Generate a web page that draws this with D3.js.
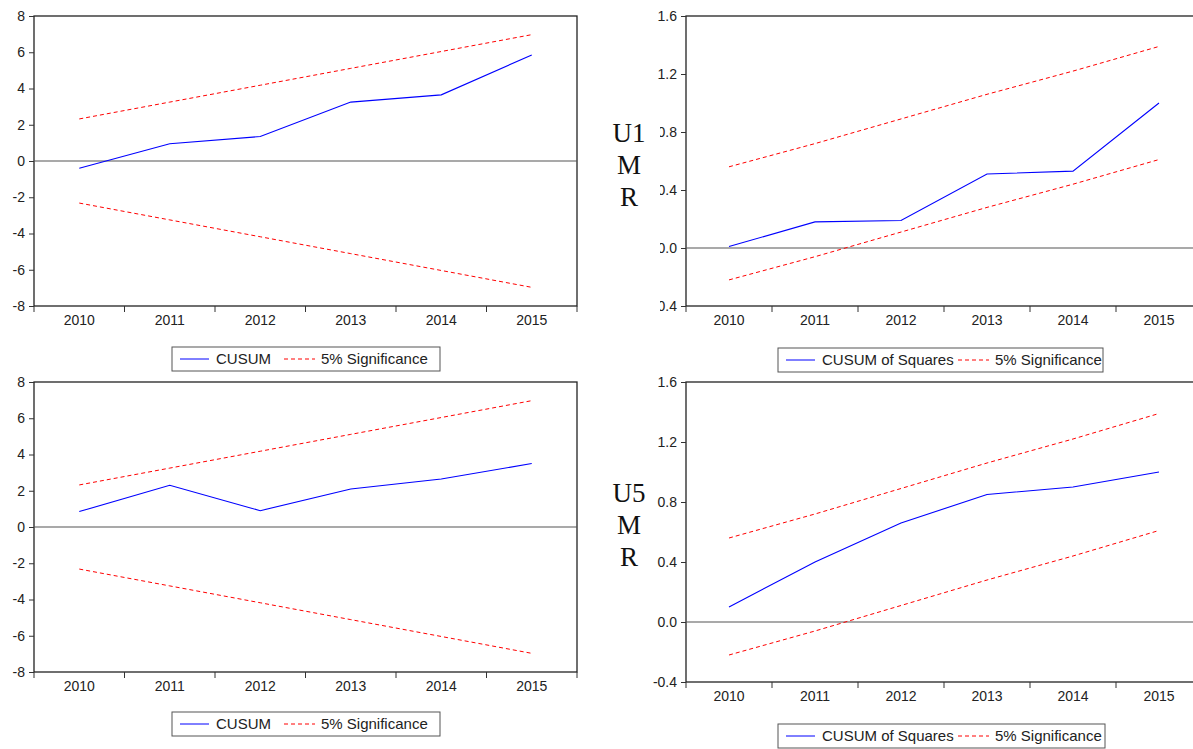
<!DOCTYPE html>
<html>
<head>
<meta charset="utf-8">
<script src="https://cdn.jsdelivr.net/npm/d3@7"></script>
<style>
  body { margin: 0; background: #fff; }
  svg { display: block; }
  .axis text { font-family: "Liberation Sans", Arial, sans-serif; font-size: 14px; fill: #222; }
  .axis path, .axis line { stroke: #333; }
  .side { font-family: "Liberation Serif", "Times New Roman", serif; font-size: 27px; fill: #111; }
  .leg { font-family: "Liberation Sans", Arial, sans-serif; font-size: 15px; fill: #222; }
</style>
</head>
<body>
<div id="chart"></div>
<script>
// categories
const years = ["2010", "2011", "2012", "2013", "2014", "2015"];

// U1 CUSUM
const cusumU1 = [-0.4, 0.95, 1.35, 3.25, 3.65, 5.85];
const cusumUpper = [2.32, 3.25, 4.18, 5.11, 6.04, 6.97];
const cusumLower = [-2.32, -3.25, -4.18, -5.11, -6.04, -6.97];
// U5 CUSUM
const cusumU5 = [0.85, 2.3, 0.9, 2.1, 2.65, 3.5];

// CUSUM of squares
const sqU1 = [0.01, 0.18, 0.19, 0.51, 0.53, 1.0];
const sqU5 = [0.1, 0.4, 0.66, 0.85, 0.9, 1.0];
const sqUpper = [0.56, 0.72, 0.89, 1.06, 1.22, 1.39];
const sqLower = [-0.22, -0.06, 0.11, 0.28, 0.44, 0.61];

// tick labels
const cusumTicks = [-8, -6, -4, -2, 0, 2, 4, 6, 8];
const sqTicks = [-0.4, 0.0, 0.4, 0.8, 1.2, 1.6];

const svg = d3.select('#chart').append('svg')
  .attr('width', 1193)
  .attr('height', 749);

function panel(cfg) {
  const x = d3.scaleBand().domain(years).range([cfg.left, cfg.right]).paddingInner(0).paddingOuter(0);
  const y = d3.scaleLinear().domain(cfg.domain).range([cfg.bottom, cfg.top]);
  const g = svg.append('g');

  // frame
  g.append('rect')
    .attr('x', cfg.left).attr('y', cfg.top)
    .attr('width', cfg.right - cfg.left).attr('height', cfg.bottom - cfg.top)
    .attr('fill', 'none').attr('stroke', '#222').attr('stroke-width', 1.3);

  // zero line
  g.append('line')
    .attr('x1', cfg.left).attr('x2', cfg.right)
    .attr('y1', y(0)).attr('y2', y(0))
    .attr('stroke', '#555').attr('stroke-width', 1.2);

  // y axis
  const ya = g.append('g').attr('class', 'axis')
    .attr('transform', `translate(${cfg.left},0)`)
    .call(d3.axisLeft(y).tickValues(cfg.ticks).tickSize(5).tickPadding(4).tickFormat(cfg.fmt));
  ya.select('.domain').remove();

  // x axis: labels at band centres, ticks at band edges
  const xa = g.append('g').attr('class', 'axis')
    .attr('transform', `translate(0,${cfg.bottom})`)
    .call(d3.axisBottom(x).tickSize(0).tickPadding(9));
  xa.select('.domain').remove();
  const edges = years.map(d => x(d)).concat([cfg.right]);
  g.selectAll('line.xt').data(edges).enter().append('line')
    .attr('class', 'xt')
    .attr('x1', d => d).attr('x2', d => d)
    .attr('y1', cfg.bottom).attr('y2', cfg.bottom + 6)
    .attr('stroke', '#333');

  const cx = d => x(d) + x.bandwidth() / 2;
  const line = d3.line().x((d, i) => cx(years[i])).y(d => y(d));

  [cfg.upper, cfg.lower].forEach(s => {
    g.append('path').datum(s)
      .attr('d', line).attr('fill', 'none')
      .attr('stroke', '#ff0000').attr('stroke-width', 1)
      .attr('stroke-dasharray', '4,3');
  });
  g.append('path').datum(cfg.series)
    .attr('d', line).attr('fill', 'none')
    .attr('stroke', '#0000ff').attr('stroke-width', 1.1);

  // legend
  const lg = g.append('g').attr('transform', `translate(${cfg.legX},${cfg.legY})`);
  lg.append('rect').attr('width', cfg.legW).attr('height', 24)
    .attr('fill', '#fff').attr('stroke', '#555');
  lg.append('line').attr('x1', 8).attr('x2', 37).attr('y1', 12).attr('y2', 12)
    .attr('stroke', '#0000ff');
  lg.append('text').attr('class', 'leg').attr('x', 44).attr('y', 17).text(cfg.name);
  const off = cfg.dashX;
  lg.append('line').attr('x1', off).attr('x2', off + 31).attr('y1', 12).attr('y2', 12)
    .attr('stroke', '#ff0000').attr('stroke-dasharray', '4,3');
  lg.append('text').attr('class', 'leg').attr('x', off + 37).attr('y', 17).text('5% Significance');
}

const intFmt = d => String(d);
const decFmt = d => d.toFixed(1);

panel({ left: 34, right: 577, top: 16, bottom: 306, domain: [-8, 8], ticks: cusumTicks, fmt: intFmt,
  series: cusumU1, upper: cusumUpper, lower: cusumLower, name: 'CUSUM', legX: 172, legY: 347, legW: 268, dashX: 112 });
panel({ left: 34, right: 577, top: 382, bottom: 672, domain: [-8, 8], ticks: cusumTicks, fmt: intFmt,
  series: cusumU5, upper: cusumUpper, lower: cusumLower, name: 'CUSUM', legX: 172, legY: 712, legW: 268, dashX: 112 });
panel({ left: 686, right: 1202, top: 16, bottom: 306, domain: [-0.4, 1.6], ticks: sqTicks, fmt: decFmt,
  series: sqU1, upper: sqUpper, lower: sqLower, name: 'CUSUM of Squares', legX: 778, legY: 348, legW: 325, dashX: 180 });
panel({ left: 686, right: 1202, top: 382, bottom: 682, domain: [-0.4, 1.6], ticks: sqTicks, fmt: decFmt,
  series: sqU5, upper: sqUpper, lower: sqLower, name: 'CUSUM of Squares', legX: 778, legY: 724, legW: 327, dashX: 180 });

// side labels; the upper one sits on a white box that hides part of the tick labels
svg.append('rect').attr('x', 598).attr('y', 100).attr('width', 62).attr('height', 215).attr('fill', '#fff');
const sideLabels = [{ y: 142, t: ['U1', 'M', 'R'] }, { y: 502, t: ['U5', 'M', 'R'] }];
sideLabels.forEach(s => {
  svg.append('text').attr('class', 'side').attr('text-anchor', 'middle')
    .selectAll('tspan').data(s.t).enter().append('tspan')
    .attr('x', 629).attr('y', (d, i) => s.y + i * 32).text(d => d);
});
</script>
</body>
</html>
